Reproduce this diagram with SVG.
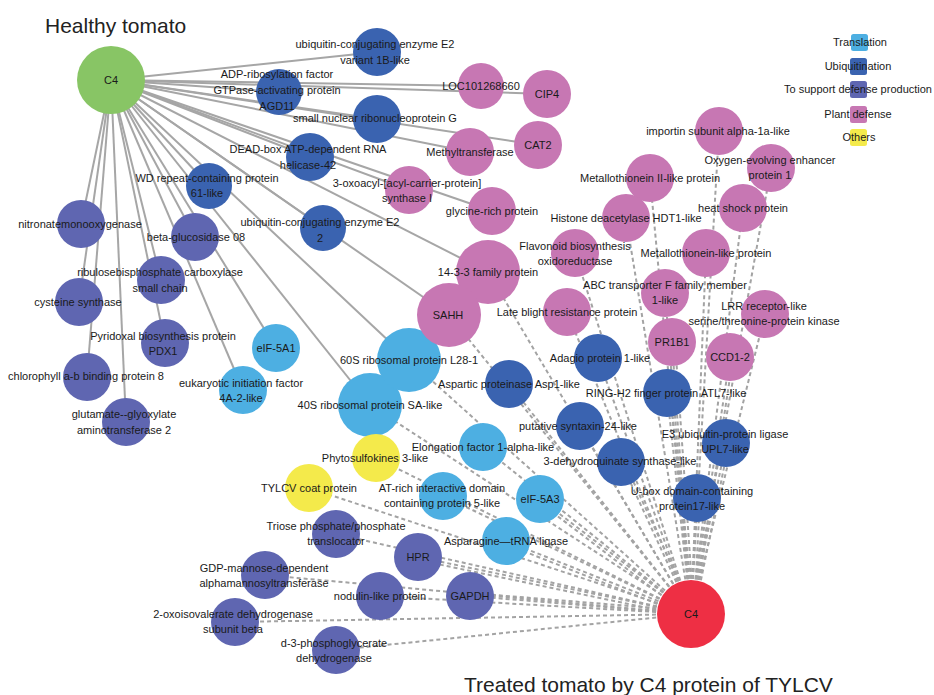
<svg xmlns="http://www.w3.org/2000/svg" width="934" height="695" viewBox="0 0 934 695">
<style>
.e{stroke:#a6a6a6;stroke-width:2;fill:none}
.d{stroke:#a3a3a3;stroke-width:2;stroke-dasharray:4 3;fill:none}
.tr{fill:#4dafe2}
.ub{fill:#3a63b0}
.sd{fill:#5f66b1}
.pd{fill:#c777b3}
.ot{fill:#f4ea4b}
.gr{fill:#88c565}
.rd{fill:#ee2f44}
text{font-family:"Liberation Sans",Arial,sans-serif;font-size:11px;fill:#1a1a1a;text-anchor:middle}
.title{font-size:21px;text-anchor:start;fill:#222}
</style>
<rect width="934" height="695" fill="#fff"/>
<text class="title" x="45" y="33">Healthy tomato</text>
<text class="title" x="464" y="692">Treated tomato by C4 protein of TYLCV</text>
<g id="connectors">
<g id="healthy-edges">
<line class="e" x1="111" y1="80" x2="377" y2="52"/>
<line class="e" x1="111" y1="80" x2="279" y2="92"/>
<line class="e" x1="111" y1="80" x2="481" y2="86"/>
<line class="e" x1="111" y1="80" x2="547" y2="94"/>
<line class="e" x1="111" y1="80" x2="377" y2="119"/>
<line class="e" x1="111" y1="80" x2="470" y2="152"/>
<line class="e" x1="111" y1="80" x2="538" y2="145"/>
<line class="e" x1="111" y1="80" x2="310" y2="157"/>
<line class="e" x1="111" y1="80" x2="409" y2="190"/>
<line class="e" x1="111" y1="80" x2="492" y2="211"/>
<line class="e" x1="111" y1="80" x2="209" y2="186"/>
<line class="e" x1="111" y1="80" x2="324" y2="228"/>
<line class="e" x1="111" y1="80" x2="488" y2="272"/>
<line class="e" x1="111" y1="80" x2="449" y2="315"/>
<line class="e" x1="111" y1="80" x2="409" y2="360"/>
<line class="e" x1="111" y1="80" x2="370" y2="405"/>
<line class="e" x1="111" y1="80" x2="276" y2="348"/>
<line class="e" x1="111" y1="80" x2="243" y2="390"/>
<line class="e" x1="111" y1="80" x2="195" y2="237"/>
<line class="e" x1="111" y1="80" x2="161" y2="280"/>
<line class="e" x1="111" y1="80" x2="165" y2="343"/>
<line class="e" x1="111" y1="80" x2="81" y2="224"/>
<line class="e" x1="111" y1="80" x2="79" y2="302"/>
<line class="e" x1="111" y1="80" x2="87" y2="377"/>
<line class="e" x1="111" y1="80" x2="126" y2="422"/>
</g>
<g id="treated-edges">
<line class="d" x1="691" y1="614" x2="719" y2="131"/>
<line class="d" x1="691" y1="614" x2="771" y2="168"/>
<line class="d" x1="691" y1="614" x2="650" y2="178"/>
<line class="d" x1="691" y1="614" x2="743" y2="208"/>
<line class="d" x1="691" y1="614" x2="626" y2="218"/>
<line class="d" x1="691" y1="614" x2="575" y2="253"/>
<line class="d" x1="691" y1="614" x2="706" y2="253"/>
<line class="d" x1="691" y1="614" x2="488" y2="272"/>
<line class="d" x1="691" y1="614" x2="665" y2="293"/>
<line class="d" x1="691" y1="614" x2="765" y2="314"/>
<line class="d" x1="691" y1="614" x2="567" y2="312"/>
<line class="d" x1="691" y1="614" x2="449" y2="315"/>
<line class="d" x1="691" y1="614" x2="672" y2="342"/>
<line class="d" x1="694" y1="613.8" x2="675" y2="341.8"/>
<line class="d" x1="691" y1="614" x2="730" y2="357"/>
<line class="d" x1="694" y1="614.5" x2="733" y2="357.5"/>
<line class="d" x1="691" y1="614" x2="598" y2="358"/>
<line class="d" x1="691" y1="614" x2="509" y2="384"/>
<line class="d" x1="691" y1="614" x2="667" y2="393"/>
<line class="d" x1="694" y1="613.7" x2="670" y2="392.7"/>
<line class="d" x1="691" y1="614" x2="580" y2="426"/>
<line class="d" x1="691" y1="614" x2="621" y2="462"/>
<line class="d" x1="693.7" y1="612.7" x2="623.7" y2="460.7"/>
<line class="d" x1="691" y1="614" x2="726" y2="443"/>
<line class="d" x1="693.9" y1="614.6" x2="728.9" y2="443.6"/>
<line class="d" x1="691" y1="614" x2="697" y2="498"/>
<line class="d" x1="694" y1="614.2" x2="700" y2="498.2"/>
<line class="d" x1="691" y1="614" x2="409" y2="360"/>
<line class="d" x1="691" y1="614" x2="370" y2="405"/>
<line class="d" x1="691" y1="614" x2="483" y2="447"/>
<line class="d" x1="691" y1="614" x2="443" y2="496"/>
<line class="d" x1="691" y1="614" x2="540" y2="499"/>
<line class="d" x1="689.2" y1="616.4" x2="538.2" y2="501.4"/>
<line class="d" x1="691" y1="614" x2="506" y2="541"/>
<line class="d" x1="689.9" y1="616.8" x2="504.9" y2="543.8"/>
<line class="d" x1="691" y1="614" x2="376" y2="458"/>
<line class="d" x1="691" y1="614" x2="309" y2="488"/>
<line class="d" x1="691" y1="614" x2="336" y2="534"/>
<line class="d" x1="691" y1="614" x2="418" y2="557"/>
<line class="d" x1="690.4" y1="616.9" x2="417.4" y2="559.9"/>
<line class="d" x1="691" y1="614" x2="265" y2="575"/>
<line class="d" x1="691" y1="614" x2="380" y2="596"/>
<line class="d" x1="691" y1="614" x2="470" y2="596"/>
<line class="d" x1="691.2" y1="611" x2="470.2" y2="593"/>
<line class="d" x1="691" y1="614" x2="235" y2="622"/>
<line class="d" x1="691" y1="614" x2="336" y2="650"/>
</g>
</g>
<g id="nodes">
<g id="c4-healthy"><circle class="gr" cx="111" cy="80" r="34"/><text x="111" y="84">C4</text></g>
<g id="c4-treated"><circle class="rd" cx="691" cy="614" r="34"/><text x="691" y="618">C4</text></g>

<g id="n-rp40"><circle class="tr" cx="370" cy="405" r="32"/><text x="370" y="409">40S ribosomal protein SA-like</text></g>
<g id="n-rp60"><circle class="tr" cx="409" cy="360" r="32"/><text x="409" y="364">60S ribosomal protein L28-1</text></g>
<g id="n-1433"><circle class="pd" cx="488" cy="272" r="32"/><text x="488" y="276">14-3-3 family protein</text></g>
<g id="n-sahh"><circle class="pd" cx="449" cy="315" r="32"/><text x="448" y="319">SAHH</text></g>

<g id="n-ube2v"><circle class="ub" cx="377" cy="52" r="24"/><text x="375" y="48">ubiquitin-conjugating enzyme E2<tspan x="375" dy="16">variant 1B-like</tspan></text></g>
<g id="n-agd11"><circle class="ub" cx="279" cy="92" r="23"/><text x="277" y="78">ADP-ribosylation factor<tspan x="277" dy="16">GTPase-activating protein</tspan><tspan x="277" dy="16">AGD11</tspan></text></g>
<g id="n-snrpg"><circle class="ub" cx="377" cy="119" r="24"/><text x="375" y="122">small nuclear ribonucleoprotein G</text></g>
<g id="n-dead"><circle class="ub" cx="310" cy="157" r="24"/><text x="308" y="153">DEAD-box ATP-dependent RNA<tspan x="308" dy="16">helicase-42</tspan></text></g>
<g id="n-wd"><circle class="ub" cx="209" cy="186" r="23"/><text x="207" y="182">WD repeat-containing protein<tspan x="207" dy="15">61-like</tspan></text></g>
<g id="n-ube2"><circle class="ub" cx="323" cy="228" r="23"/><text x="320" y="226">ubiquitin-conjugating enzyme E2<tspan x="320" dy="16">2</tspan></text></g>

<g id="n-loc"><circle class="pd" cx="481" cy="86" r="23"/><text x="481" y="90">LOC101268660</text></g>
<g id="n-cip4"><circle class="pd" cx="547" cy="94" r="24"/><text x="547" y="98">CIP4</text></g>
<g id="n-mtase"><circle class="pd" cx="470" cy="152" r="24"/><text x="470" y="156">Methyltransferase</text></g>
<g id="n-cat2"><circle class="pd" cx="538" cy="145" r="24"/><text x="538" y="149">CAT2</text></g>
<g id="n-oxoacyl"><circle class="pd" cx="409" cy="190" r="24"/><text x="407" y="187">3-oxoacyl-[acyl-carrier-protein]<tspan x="407" dy="15">synthase I</tspan></text></g>
<g id="n-glycine"><circle class="pd" cx="492" cy="211" r="24"/><text x="492" y="215">glycine-rich protein</text></g>
<g id="n-importin"><circle class="pd" cx="719" cy="131" r="24"/><text x="718" y="135">importin subunit alpha-1a-like</text></g>
<g id="n-oee"><circle class="pd" cx="771" cy="168" r="24"/><text x="770" y="164">Oxygen-evolving enhancer<tspan x="770" dy="15">protein 1</tspan></text></g>
<g id="n-mt2"><circle class="pd" cx="650" cy="178" r="24"/><text x="650" y="182">Metallothionein II-like protein</text></g>
<g id="n-hsp"><circle class="pd" cx="743" cy="208" r="24"/><text x="743" y="212">heat shock protein</text></g>
<g id="n-hdt1"><circle class="pd" cx="626" cy="218" r="24"/><text x="626" y="222">Histone deacetylase HDT1-like</text></g>
<g id="n-flav"><circle class="pd" cx="575" cy="253" r="24"/><text x="575" y="250">Flavonoid biosynthesis<tspan x="575" dy="15">oxidoreductase</tspan></text></g>
<g id="n-mtl"><circle class="pd" cx="706" cy="253" r="24"/><text x="706" y="257">Metallothionein-like protein</text></g>
<g id="n-abc"><circle class="pd" cx="665" cy="293" r="24"/><text x="665" y="289">ABC transporter F family member<tspan x="665" dy="15">1-like</tspan></text></g>
<g id="n-lrr"><circle class="pd" cx="765" cy="314" r="24"/><text x="764" y="310">LRR receptor-like<tspan x="764" dy="15">serine/threonine-protein kinase</tspan></text></g>
<g id="n-lateb"><circle class="pd" cx="567" cy="312" r="24"/><text x="567" y="316">Late blight resistance protein</text></g>
<g id="n-pr1b1"><circle class="pd" cx="672" cy="342" r="24"/><text x="672" y="346">PR1B1</text></g>
<g id="n-ccd"><circle class="pd" cx="730" cy="357" r="24"/><text x="730" y="361">CCD1-2</text></g>

<g id="n-aspartic"><circle class="ub" cx="509" cy="384" r="24"/><text x="509" y="388">Aspartic proteinase Asp1-like</text></g>
<g id="n-adagio"><circle class="ub" cx="598" cy="358" r="24"/><text x="600" y="362">Adagio protein 1-like</text></g>
<g id="n-ring"><circle class="ub" cx="667" cy="393" r="24"/><text x="666" y="397">RING-H2 finger protein ATL7-like</text></g>
<g id="n-syntaxin"><circle class="ub" cx="580" cy="426" r="24"/><text x="578" y="430">putative syntaxin-24-like</text></g>
<g id="n-dhq"><circle class="ub" cx="621" cy="462" r="24"/><text x="620" y="465">3-dehydroquinate synthase-like</text></g>
<g id="n-upl7"><circle class="ub" cx="726" cy="443" r="24"/><text x="725" y="438">E3 ubiquitin-protein ligase<tspan x="725" dy="15">UPL7-like</tspan></text></g>
<g id="n-ubox"><circle class="ub" cx="697" cy="498" r="24"/><text x="692" y="495">U-box domain-containing<tspan x="692" dy="15">protein17-like</tspan></text></g>

<g id="n-eif5a1"><circle class="tr" cx="276" cy="348" r="24"/><text x="276" y="352">eIF-5A1</text></g>
<g id="n-eif4a"><circle class="tr" cx="243" cy="390" r="24"/><text x="241" y="387">eukaryotic initiation factor<tspan x="241" dy="15">4A-2-like</tspan></text></g>
<g id="n-ef1a"><circle class="tr" cx="483" cy="447" r="24"/><text x="483" y="451">Elongation factor 1-alpha-like</text></g>
<g id="n-atrich"><circle class="tr" cx="443" cy="496" r="24"/><text x="442" y="492">AT-rich interactive domain<tspan x="442" dy="15">containing protein 5-like</tspan></text></g>
<g id="n-eif5a3"><circle class="tr" cx="540" cy="499" r="24"/><text x="540" y="503">eIF-5A3</text></g>
<g id="n-asn"><circle class="tr" cx="506" cy="541" r="24"/><text x="506" y="545">Asparagine—tRNA ligase</text></g>

<g id="n-psk"><circle class="ot" cx="376" cy="458" r="24"/><text x="375" y="462">Phytosulfokines 3-like</text></g>
<g id="n-tylcv"><circle class="ot" cx="309" cy="488" r="24"/><text x="309" y="492">TYLCV coat protein</text></g>

<g id="n-nitro"><circle class="sd" cx="81" cy="224" r="24"/><text x="80" y="228">nitronatemonooxygenase</text></g>
<g id="n-bglu"><circle class="sd" cx="195" cy="237" r="24"/><text x="196" y="241">beta-glucosidase 08</text></g>
<g id="n-rubisco"><circle class="sd" cx="161" cy="280" r="24"/><text x="160" y="276">ribulosebisphosphate carboxylase<tspan x="160" dy="16">small chain</tspan></text></g>
<g id="n-cys"><circle class="sd" cx="79" cy="302" r="24"/><text x="78" y="306">cysteine synthase</text></g>
<g id="n-pdx1"><circle class="sd" cx="165" cy="343" r="24"/><text x="163" y="340">Pyridoxal biosynthesis protein<tspan x="163" dy="15">PDX1</tspan></text></g>
<g id="n-chl"><circle class="sd" cx="87" cy="377" r="24"/><text x="86" y="380">chlorophyll a-b binding protein 8</text></g>
<g id="n-glu"><circle class="sd" cx="126" cy="422" r="24"/><text x="124" y="418">glutamate--glyoxylate<tspan x="124" dy="16">aminotransferase 2</tspan></text></g>
<g id="n-triose"><circle class="sd" cx="336" cy="534" r="24"/><text x="336" y="530">Triose phosphate/phosphate<tspan x="336" dy="15">translocator</tspan></text></g>
<g id="n-hpr"><circle class="sd" cx="418" cy="557" r="24"/><text x="418" y="561">HPR</text></g>
<g id="n-gdp"><circle class="sd" cx="265" cy="575" r="24"/><text x="264" y="572">GDP-mannose-dependent<tspan x="264" dy="15">alphamannosyltransferase</tspan></text></g>
<g id="n-nodulin"><circle class="sd" cx="380" cy="596" r="24"/><text x="380" y="600">nodulin-like protein</text></g>
<g id="n-gapdh"><circle class="sd" cx="470" cy="596" r="24"/><text x="470" y="600">GAPDH</text></g>
<g id="n-oxoiso"><circle class="sd" cx="235" cy="622" r="24"/><text x="233" y="618">2-oxoisovalerate dehydrogenase<tspan x="233" dy="15">subunit beta</tspan></text></g>
<g id="n-pgdh"><circle class="sd" cx="336" cy="650" r="24"/><text x="334" y="647">d-3-phosphoglycerate<tspan x="334" dy="15">dehydrogenase</tspan></text></g>
</g>
<g id="legend">
<rect class="tr" x="851" y="34" width="17" height="17" rx="2.5"/>
<text x="860" y="46">Translation</text>
<rect class="ub" x="850" y="58" width="17" height="17" rx="2.5"/>
<text x="858" y="70">Ubiquitination</text>
<rect class="sd" x="850" y="81" width="17" height="17" rx="2.5"/>
<text x="858" y="93">To support defense production</text>
<rect class="pd" x="850" y="106" width="17" height="17" rx="2.5"/>
<text x="858" y="118">Plant defense</text>
<rect class="ot" x="850" y="129" width="17" height="17" rx="2.5"/>
<text x="859" y="141">Others</text>
</g>
</svg>
